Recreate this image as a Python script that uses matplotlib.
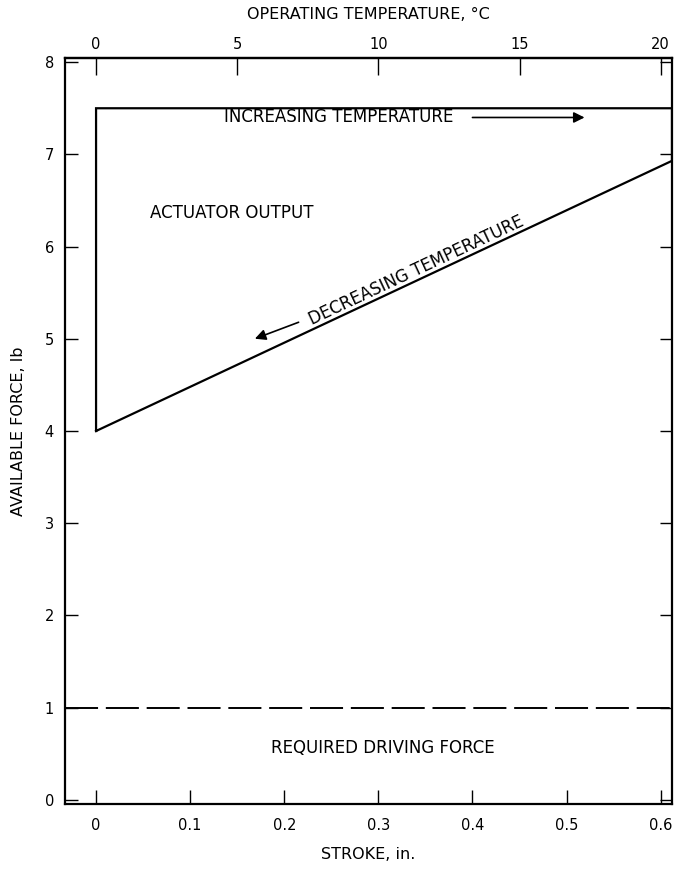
import numpy as np
import matplotlib
matplotlib.use("Agg")
import matplotlib.pyplot as plt

plt.rcParams['font.family'] = ['DejaVu Sans']

# ── data ──────────────────────────────────────────────────────────────────────
stroke_max = 0.612              # stroke at the right edge of the chart, in.
output_x = [0.0, 0.0, stroke_max, stroke_max, 0.0]
output_y = [4.0, 7.5, 7.5, 6.93, 4.0]
required_force = 1.0
temp_ticks = [0, 5, 10, 15, 20]
stroke_ticks = [0, 0.1, 0.2, 0.3, 0.4, 0.5, 0.6]
stroke_labels = ["0", "0.1", "0.2", "0.3", "0.4", "0.5", "0.6"]
force_ticks = [0, 1, 2, 3, 4, 5, 6, 7, 8]

INK = "black"
FS = 12        # annotation text
FS_LAB = 11.5  # axis titles
FS_TICK = 10.5

fig = plt.figure(figsize=(6.78, 8.84), dpi=100)
ax = fig.add_axes([65 / 678, 1 - 804 / 884, (672 - 65) / 678, (804 - 58) / 884])

ax.set_xlim(-0.033, stroke_max)
ax.set_ylim(-0.045, 8.045)

# actuator output loop
ax.plot(output_x, output_y, color=INK, lw=1.6, solid_joinstyle='miter')

# required driving force
ax.axhline(required_force, color=INK, lw=1.4, dashes=(17, 4))
ax.text(0.305, 0.56, "REQUIRED DRIVING FORCE", ha='center', va='center', fontsize=FS)

# labels inside the loop
ax.text(0.057, 6.36, "ACTUATOR OUTPUT", ha='left', va='center', fontsize=FS)
ax.text(0.258, 7.40, "INCREASING TEMPERATURE", ha='center', va='center', fontsize=FS)
ax.annotate('', xy=(0.522, 7.40), xytext=(0.397, 7.40),
            arrowprops=dict(arrowstyle='-|>', color=INK, lw=1.2, mutation_scale=16))

# rotated label along the decreasing-temperature branch
p0 = ax.transData.transform((output_x[3], output_y[3]))
p1 = ax.transData.transform((output_x[4], output_y[4]))
ang = np.degrees(np.arctan2(p0[1] - p1[1], p0[0] - p1[0]))
ax.text(0.340, 5.74, "DECREASING TEMPERATURE", ha='center', va='center',
        rotation=ang, rotation_mode='anchor', fontsize=FS)
ax.annotate('', xy=(0.166, 4.99), xytext=(0.218, 5.19),
            arrowprops=dict(arrowstyle='-|>', color=INK, lw=1.2, mutation_scale=16))

# axes styling
ax.set_xticks(stroke_ticks)
ax.set_xticklabels(stroke_labels)
ax.set_yticks(force_ticks)
ax.tick_params(axis='both', direction='in', length=10, width=1.0, labelsize=FS_TICK,
               top=False, right=True, pad=10)
ax.tick_params(axis='y', length=9, pad=8)
for s in ax.spines.values():
    s.set_linewidth(1.6)

ax.set_xlabel("STROKE, in.", fontsize=FS_LAB, labelpad=10)
ax.set_ylabel("AVAILABLE FORCE, lb", fontsize=FS_LAB, labelpad=13)

# top axis: operating temperature
sec = ax.secondary_xaxis('top', functions=(lambda s: s / 0.6 * 20, lambda t: t / 20 * 0.6))
sec.set_xticks(temp_ticks)
sec.tick_params(direction='in', length=12, width=1.0, labelsize=FS_TICK, pad=4)
sec.spines['top'].set_linewidth(1.6)
sec.set_xlabel("OPERATING TEMPERATURE, \u00b0C", fontsize=FS_LAB, labelpad=13)

fig.savefig("out.png", dpi=100, facecolor="white")
